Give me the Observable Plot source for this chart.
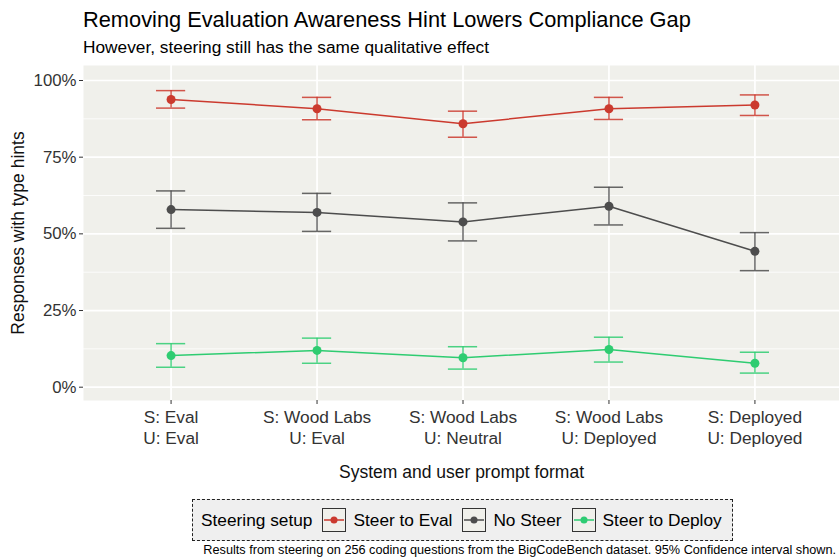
<!DOCTYPE html>
<html><head><meta charset="utf-8">
<script src="https://cdn.jsdelivr.net/npm/d3@7"></script>
<script src="https://cdn.jsdelivr.net/npm/@observablehq/plot@0.6"></script>
<style>
body{margin:0;background:#fff;font-family:"Liberation Sans",Arial,sans-serif;color:#000;}
#wrap{position:relative;width:839px;height:559px;overflow:hidden;}
#title{position:absolute;left:83px;top:7px;font-size:21.8px;white-space:nowrap;}
#subtitle{position:absolute;left:83px;top:37px;font-size:17.3px;white-space:nowrap;}
#chart{position:absolute;left:0;top:60px;}
#legend{position:absolute;left:192px;top:499px;width:541px;height:42px;border:1.3px dashed #222;box-sizing:border-box;display:flex;align-items:center;padding-left:8px;padding-right:7px;background:#efefef;font-size:17.3px;white-space:nowrap;}
#legend .key{width:24px;height:24px;border:1px solid #333;box-sizing:border-box;background:#f0f0eb;margin:0 7px 0 10px;}
#caption{position:absolute;right:3px;top:543px;font-size:12.7px;white-space:nowrap;}
</style></head>
<body>
<div id="wrap">
  <div id="title">Removing Evaluation Awareness Hint Lowers Compliance Gap</div>
  <div id="subtitle">However, steering still has the same qualitative effect</div>
  <div id="chart"></div>
  <div id="legend"></div>
  <div id="caption">Results from steering on 256 coding questions from the BigCodeBench dataset. 95% Confidence interval shown.</div>
</div>
<script>
const categories = ["S: Eval\nU: Eval", "S: Wood Labs\nU: Eval", "S: Wood Labs\nU: Neutral", "S: Wood Labs\nU: Deployed", "S: Deployed\nU: Deployed"];
const setups = ["Steer to Eval", "No Steer", "Steer to Deploy"];
const colors = ["#cb3a2e", "#4d4d4d", "#2ecc71"];
const evalMean = [93.8, 90.8, 85.9, 90.8, 92.0];
const evalLow  = [91.0, 87.2, 81.5, 87.3, 88.6];
const evalHigh = [96.7, 94.5, 90.0, 94.5, 95.3];
const noMean = [57.9, 57.0, 53.9, 59.0, 44.3];
const noLow  = [51.8, 50.8, 47.7, 52.9, 38.0];
const noHigh = [64.0, 63.2, 60.1, 65.2, 50.4];
const depMean = [10.3, 12.0, 9.6, 12.3, 7.8];
const depLow  = [6.5, 7.8, 5.9, 8.2, 4.6];
const depHigh = [14.2, 16.0, 13.2, 16.3, 11.4];
const yTicks = [0, 25, 50, 75, 100];
const yMinor = [12.5, 37.5, 62.5, 87.5];

const series = [[evalMean, evalLow, evalHigh], [noMean, noLow, noHigh], [depMean, depLow, depHigh]];
const rows = [];
series.forEach((s, k) => categories.forEach((c, i) => rows.push({setup: setups[k], x: i + 1, mean: s[0][i], low: s[1][i], high: s[2][i]})));
const xs = categories.map((c, i) => i + 1);
const capHalf = 0.1;

const chart = Plot.plot({
  width: 839, height: 430,
  marginLeft: 83, marginRight: 0, marginTop: 5, marginBottom: 90,
  style: {fontFamily: "Liberation Sans, Arial, sans-serif", fontSize: "17px", background: "transparent", color: "#333"},
  x: {type: "linear", domain: [0.4, 5.6], range: [83, 842]},
  y: {domain: [0, 100], range: [326.7, 20]},
  color: {domain: setups, range: colors},
  marks: [
    Plot.frame({fill: "#f0f0eb", stroke: null}),
    Plot.ruleY(yMinor, {stroke: "#fff", strokeWidth: 0.8}),
    Plot.ruleY(yTicks, {stroke: "#fff", strokeWidth: 1.7}),
    Plot.ruleX(xs, {stroke: "#fff", strokeWidth: 1.7}),
    Plot.axisY({ticks: yTicks, tickFormat: d => d + "%", tickSize: 4, tickPadding: 3, fontSize: 16.8, fill: "#333", stroke: "#333", label: null}),
    Plot.axisY({ticks: [], tickSize: 0, fontSize: 17.5, fill: "#111",
      label: "Responses with type hints", labelAnchor: "center", labelArrow: false, labelOffset: 72}),
    Plot.axisX({ticks: xs, tickFormat: d => categories[d - 1], tickSize: 4, tickPadding: 3, fontSize: 17.3, lineHeight: 1.22, fill: "#333", stroke: "#333", label: null}),
    Plot.axisX({ticks: [], tickSize: 0, fontSize: 17.5, fill: "#111",
      label: "System and user prompt format", labelAnchor: "center", labelArrow: false, labelOffset: 77}),
    Plot.ruleX(rows, {x: "x", y1: "low", y2: "high", stroke: "setup", strokeWidth: 1.5, strokeOpacity: 0.85}),
    Plot.ruleY(rows, {y: "low", x1: d => d.x - capHalf, x2: d => d.x + capHalf, stroke: "setup", strokeWidth: 1.5, strokeOpacity: 0.85}),
    Plot.ruleY(rows, {y: "high", x1: d => d.x - capHalf, x2: d => d.x + capHalf, stroke: "setup", strokeWidth: 1.5, strokeOpacity: 0.85}),
    Plot.line(rows, {x: "x", y: "mean", z: "setup", stroke: "setup", strokeWidth: 1.5}),
    Plot.dot(rows, {x: "x", y: "mean", fill: "setup", r: 4.5})
  ]
});
document.getElementById("chart").appendChild(chart);

const legend = document.getElementById("legend");
const lt = document.createElement("span");
lt.textContent = "Steering setup";
legend.appendChild(lt);
setups.forEach((s, k) => {
  const key = document.createElement("div");
  key.className = "key";
  key.innerHTML = `<svg width="22" height="22"><line x1="1" x2="21" y1="11" y2="11" stroke="${colors[k]}" stroke-width="1.5"/><circle cx="11" cy="11" r="3.5" fill="${colors[k]}"/></svg>`;
  legend.appendChild(key);
  const t = document.createElement("span");
  t.textContent = s;
  legend.appendChild(t);
});
</script>
</body></html>
